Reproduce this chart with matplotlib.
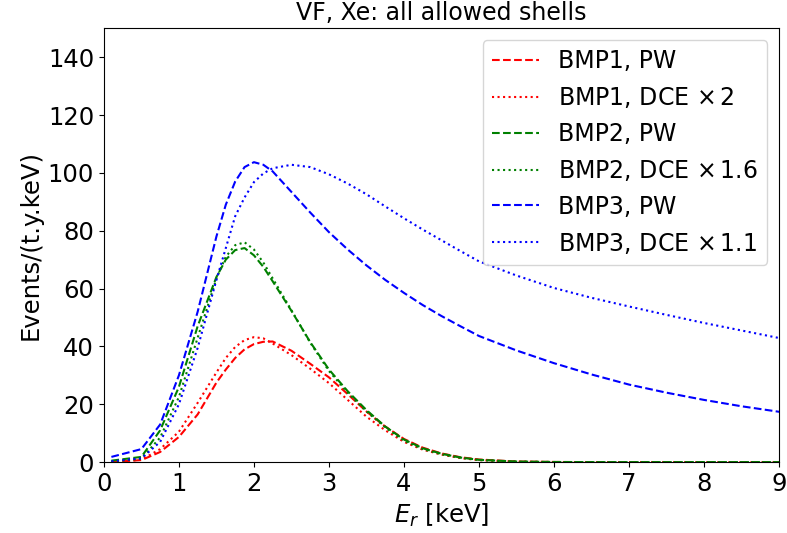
import matplotlib
matplotlib.use("Agg")
import matplotlib.pyplot as plt

# recoil energy grid [keV]
er = [0.1, 0.5, 0.75, 1.0, 1.25, 1.5, 1.625, 1.75, 1.875, 2.0, 2.125, 2.25, 2.5, 2.75,
      3.0, 3.25, 3.5, 3.75, 4.0, 4.25, 4.5, 4.75, 5.0, 5.5, 6.0, 6.5, 7.0, 7.5, 8.0, 8.5, 9.0]

bmp1_pw = [0.05, 0.7, 3.5, 8.7, 16.5, 27.5, 32, 36, 39, 40.8, 41.6, 41.7, 38.5, 34, 29.3,
           23.5, 17.5, 12.3, 8, 5, 3, 1.7, 0.9, 0.2, 0.05, 0, 0, 0, 0, 0, 0]
bmp1_dce = [0.1, 0.8, 4.5, 10.5, 20.5, 31, 36, 39.8, 42.2, 43.2, 42.8, 41, 37, 32.3, 27.3,
            21.5, 15.7, 11, 7, 4.3, 2.6, 1.4, 0.7, 0.15, 0.03, 0, 0, 0, 0, 0, 0]
bmp2_pw = [0.5, 1.8, 11, 26, 47, 64, 70, 73.3, 74, 71.5, 67.5, 62.5, 52.3, 41.5, 32,
           24.5, 18, 12.3, 7.8, 4.8, 2.9, 1.6, 0.8, 0.2, 0.05, 0, 0, 0, 0, 0, 0]
bmp2_dce = [0.2, 1.2, 8.5, 22.5, 43, 63.5, 71, 75, 76, 73.5, 69, 63.5, 52.5, 41.3, 31.5,
            24, 17.5, 12, 7.4, 4.5, 2.7, 1.5, 0.7, 0.15, 0.03, 0, 0, 0, 0, 0, 0]
bmp3_pw = [1.8, 4.5, 13, 30, 52, 78, 89, 97, 102, 103.7, 102.8, 100.5, 93.4, 86.3, 79.5,
           73.5, 68, 63, 58.5, 54.3, 50.5, 47, 43.6, 38.6, 34.2, 30.3, 26.8, 24, 21.5, 19.3, 17.4]
bmp3_dce = [0.3, 1.3, 7, 20, 39.5, 63, 74, 85, 91.5, 96.8, 99.8, 101.6, 102.8, 102, 99.5,
            96.3, 92.6, 88.4, 84.3, 80.4, 76.7, 73, 69.4, 64.5, 60.2, 56.8, 53.8, 50.9, 48.1, 45.5, 42.9]

plt.rcParams['font.size'] = 17.5

fig = plt.figure(figsize=(7.87, 5.33), dpi=100)
ax = fig.add_axes([0.132, 0.133, 0.858, 0.814])

ax.plot(er, bmp1_pw, 'r--', label='BMP1, PW')
ax.plot(er, bmp1_dce, 'r:', label=r'BMP1, DCE $\times\,2$')
ax.plot(er, bmp2_pw, 'g--', label='BMP2, PW')
ax.plot(er, bmp2_dce, 'g:', label=r'BMP2, DCE $\times\,1.6$')
ax.plot(er, bmp3_pw, 'b--', label='BMP3, PW')
ax.plot(er, bmp3_dce, 'b:', label=r'BMP3, DCE $\times\,1.1$')

ax.set_xlim(0, 9)
ax.set_ylim(0, 150)
ax.set_yticks([0, 20, 40, 60, 80, 100, 120, 140])
ax.set_xlabel(r'$E_r$ [keV]')
ax.set_ylabel('Events/(t.y.keV)')
ax.set_title('VF, Xe: all allowed shells', fontsize=17)
ax.legend(loc='upper right', fontsize=17)

plt.savefig("out.png")
